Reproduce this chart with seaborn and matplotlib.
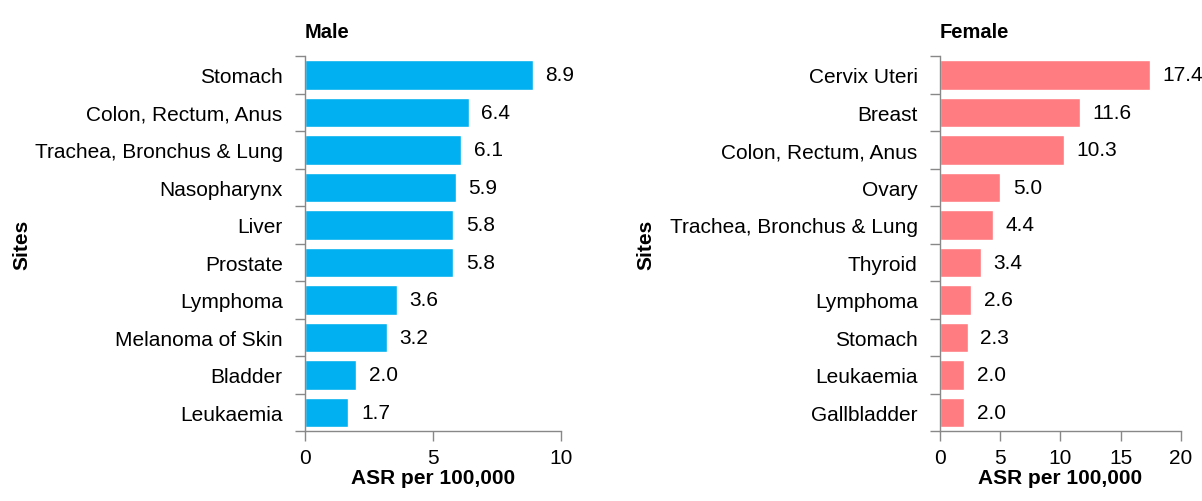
import matplotlib
matplotlib.use("Agg")
import matplotlib.pyplot as plt
import seaborn as sns
import pandas as pd

# Data
male_sites = ['Stomach', 'Colon, Rectum, Anus', 'Trachea, Bronchus & Lung', 'Nasopharynx',
              'Liver', 'Prostate', 'Lymphoma', 'Melanoma of Skin', 'Bladder', 'Leukaemia']
male_asr = [8.9, 6.4, 6.1, 5.9, 5.8, 5.8, 3.6, 3.2, 2.0, 1.7]

female_sites = ['Cervix Uteri', 'Breast', 'Colon, Rectum, Anus', 'Ovary', 'Trachea, Bronchus & Lung',
                'Thyroid', 'Lymphoma', 'Stomach', 'Leukaemia', 'Gallbladder']
female_asr = [17.4, 11.6, 10.3, 5.0, 4.4, 3.4, 2.6, 2.3, 2.0, 2.0]

male_ticks = [0, 5, 10]
female_ticks = [0, 5, 10, 15, 20]

sns.set_style("white")
plt.rcParams['font.family'] = ['Liberation Sans', 'DejaVu Sans']
plt.rcParams['text.color'] = 'black'
plt.rcParams['xtick.labelcolor'] = 'black'
plt.rcParams['ytick.labelcolor'] = 'black'
plt.rcParams['axes.labelcolor'] = 'black'

fig = plt.figure(figsize=(12.02, 5.02), dpi=100)
ax_m = fig.add_axes([0.2537, 0.139, 0.2130, 0.747])
ax_f = fig.add_axes([0.7820, 0.139, 0.2005, 0.747])

panels = [
    (ax_m, male_sites, male_asr, '#00B0F0', 'Male', male_ticks),
    (ax_f, female_sites, female_asr, '#FF7C80', 'Female', female_ticks),
]

fs = 15
for ax, sites, vals, color, title, ticks in panels:
    df = pd.DataFrame({'Sites': sites, 'ASR': vals})
    sns.barplot(data=df, x='ASR', y='Sites', color=color, width=0.78,
                saturation=1, ax=ax, orient='h')
    ax.set_xlim(ticks[0], ticks[-1])
    ax.set_ylim(len(sites) - 0.5, -0.5)
    ax.set_xticks(ticks)
    ax.set_yticks(range(len(sites)))
    # tick marks sit between categories, like the original
    ax.set_yticks([i - 0.5 for i in range(len(sites) + 1)], minor=True)
    ax.tick_params(axis='y', which='major', length=0, labelsize=fs, pad=16)
    ax.tick_params(axis='y', which='minor', length=7, width=1, color='#888888', left=True)
    ax.tick_params(axis='x', length=7, width=1, color='#888888', labelsize=fs, pad=5, bottom=True)
    for side in ['top', 'right']:
        ax.spines[side].set_visible(False)
    for side in ['left', 'bottom']:
        ax.spines[side].set_color('#888888')
        ax.spines[side].set_linewidth(1)
    for i, v in enumerate(vals):
        ax.annotate(f'{v:.1f}', xy=(v, i), xytext=(9, 0), textcoords='offset points',
                    va='center', ha='left', fontsize=fs)
    ax.set_xlabel('ASR per 100,000', fontsize=fs, fontweight='bold', labelpad=1)
    ax.set_ylabel('Sites', fontsize=fs, fontweight='bold')
    ax.set_title(title, loc='left', fontsize=fs - 0.5, fontweight='bold', pad=14)

ax_m.yaxis.set_label_coords(-1.07, 0.5)
ax_f.yaxis.set_label_coords(-1.18, 0.5)

fig.savefig('out.png', dpi=100)
